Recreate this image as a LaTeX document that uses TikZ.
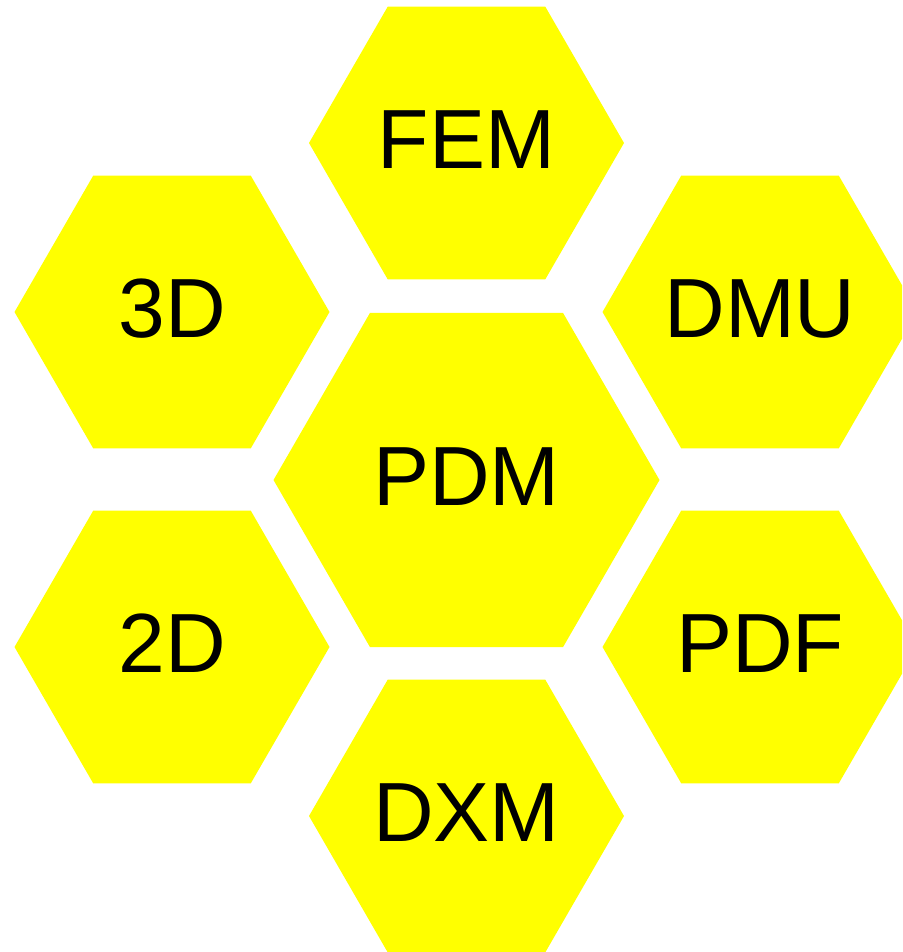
\documentclass[tikz,border=0pt]{standalone}
\usepackage{fontspec}
\setmainfont{Liberation Sans}
\usetikzlibrary{shapes.geometric}
\definecolor{hexyellow}{RGB}{255,255,0}
\begin{document}
\begin{tikzpicture}[x=1pt, y=-1pt]
  \tikzstyle{hexnode}=[regular polygon, regular polygon sides=6, fill=hexyellow, draw=none,
    inner sep=0pt, minimum size=315pt, text depth=7pt, font=\fontsize{84}{90}\selectfont]
  \tikzstyle{bighexnode}=[hexnode, minimum size=386pt]
  \clip (0,0) rectangle (902,952);
  % Centre cell
  \node[bighexnode] (pdm) at (466.5,480) {PDM};
  % Surrounding cells
  \node[hexnode] (fem) at (466.5,143) {FEM};
  \node[hexnode] (threed) at (172,312) {3D};
  \node[hexnode] (dmu) at (760,312) {DMU};
  \node[hexnode] (twod) at (172,647) {2D};
  \node[hexnode] (pdf) at (760,647) {PDF};
  \node[hexnode] (dxm) at (466.5,816) {DXM};
\end{tikzpicture}
\end{document}
